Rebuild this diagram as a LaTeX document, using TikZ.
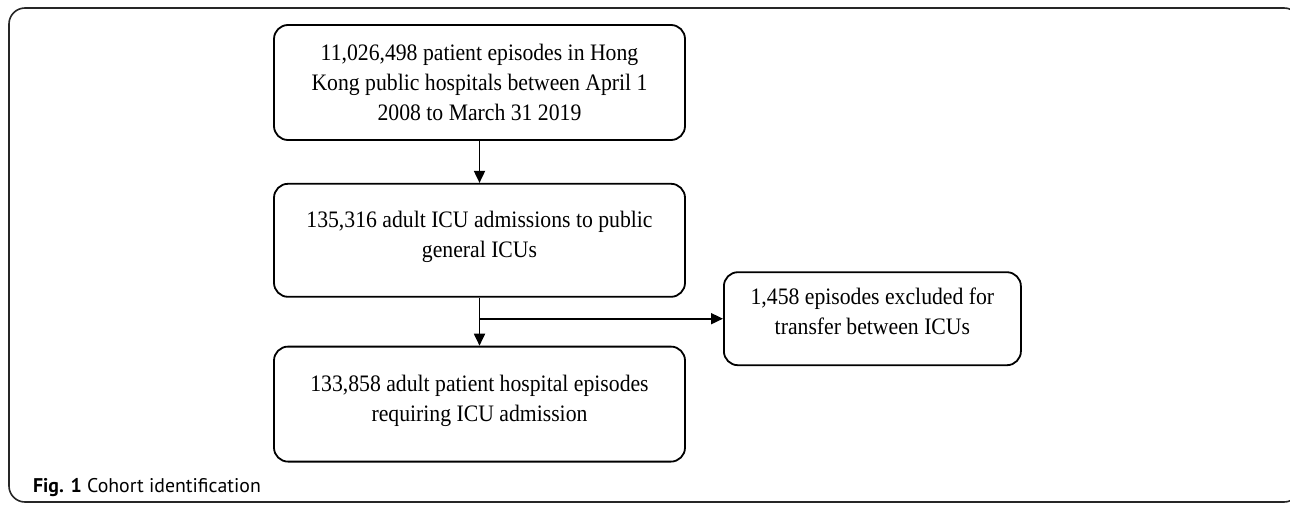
\documentclass[tikz,border=0pt]{standalone}
\usepackage{fontspec}
\setmainfont{Liberation Serif}[FakeStretch=0.92]
\newfontfamily\capfont{PT Sans}
\usetikzlibrary{arrows.meta, positioning, calc}

\begin{document}
\begin{tikzpicture}[x=0.5pt, y=-0.5pt,
    every node/.style={font=\fontsize{11.8}{14.8}\selectfont},
    stagebox/.style={draw, line width=0.9pt, rounded corners=7pt, align=center,
        minimum width=205.5pt, minimum height=57.5pt, inner sep=0pt},
    exclbox/.style={stagebox, minimum width=148.5pt, minimum height=46.5pt},
    flow/.style={line width=0.9pt, -{Triangle[length=6pt, width=5.5pt]}}
]
    \useasboundingbox (0,0) rectangle (1290,504);
    % --- Rahmen ---
    \draw[line width=0.8pt, black!85, rounded corners=8pt] (9,8) rectangle (1300,502);

    % --- Kotak utama ---
    \node[stagebox] (source) at (479.5, 82.5)
        {11,026,498 patient episodes in Hong\\Kong public hospitals between April 1\\2008 to March 31 2019};
    \node[stagebox, minimum height=56.5pt, below=21pt of source] (icu)
        {135,316 adult ICU admissions to public\\general ICUs\\[-9pt]};
    \node[stagebox, below=24pt of icu] (cohort)
        {133,858 adult patient hospital episodes\\requiring ICU admission\\[-9pt]};

    % --- Eksklusi ---
    \coordinate[below=10.5pt of icu.south] (split);
    \node[exclbox, right=121.75pt of split] (excl)
        {1,458 episodes excluded for\\transfer between ICUs\\[-7pt]};

    % Panah
    \draw[flow] (source) -- (icu);
    \draw[flow] (icu) -- (cohort);
    \draw[flow] (split) -- (excl);

    % Keterangan
    \node[anchor=base west, font=\capfont\fontsize{9.9}{12}\selectfont] (caption) at (26, 492)
        {\textbf{Fig. 1} Cohort identification};
\end{tikzpicture}
\end{document}
